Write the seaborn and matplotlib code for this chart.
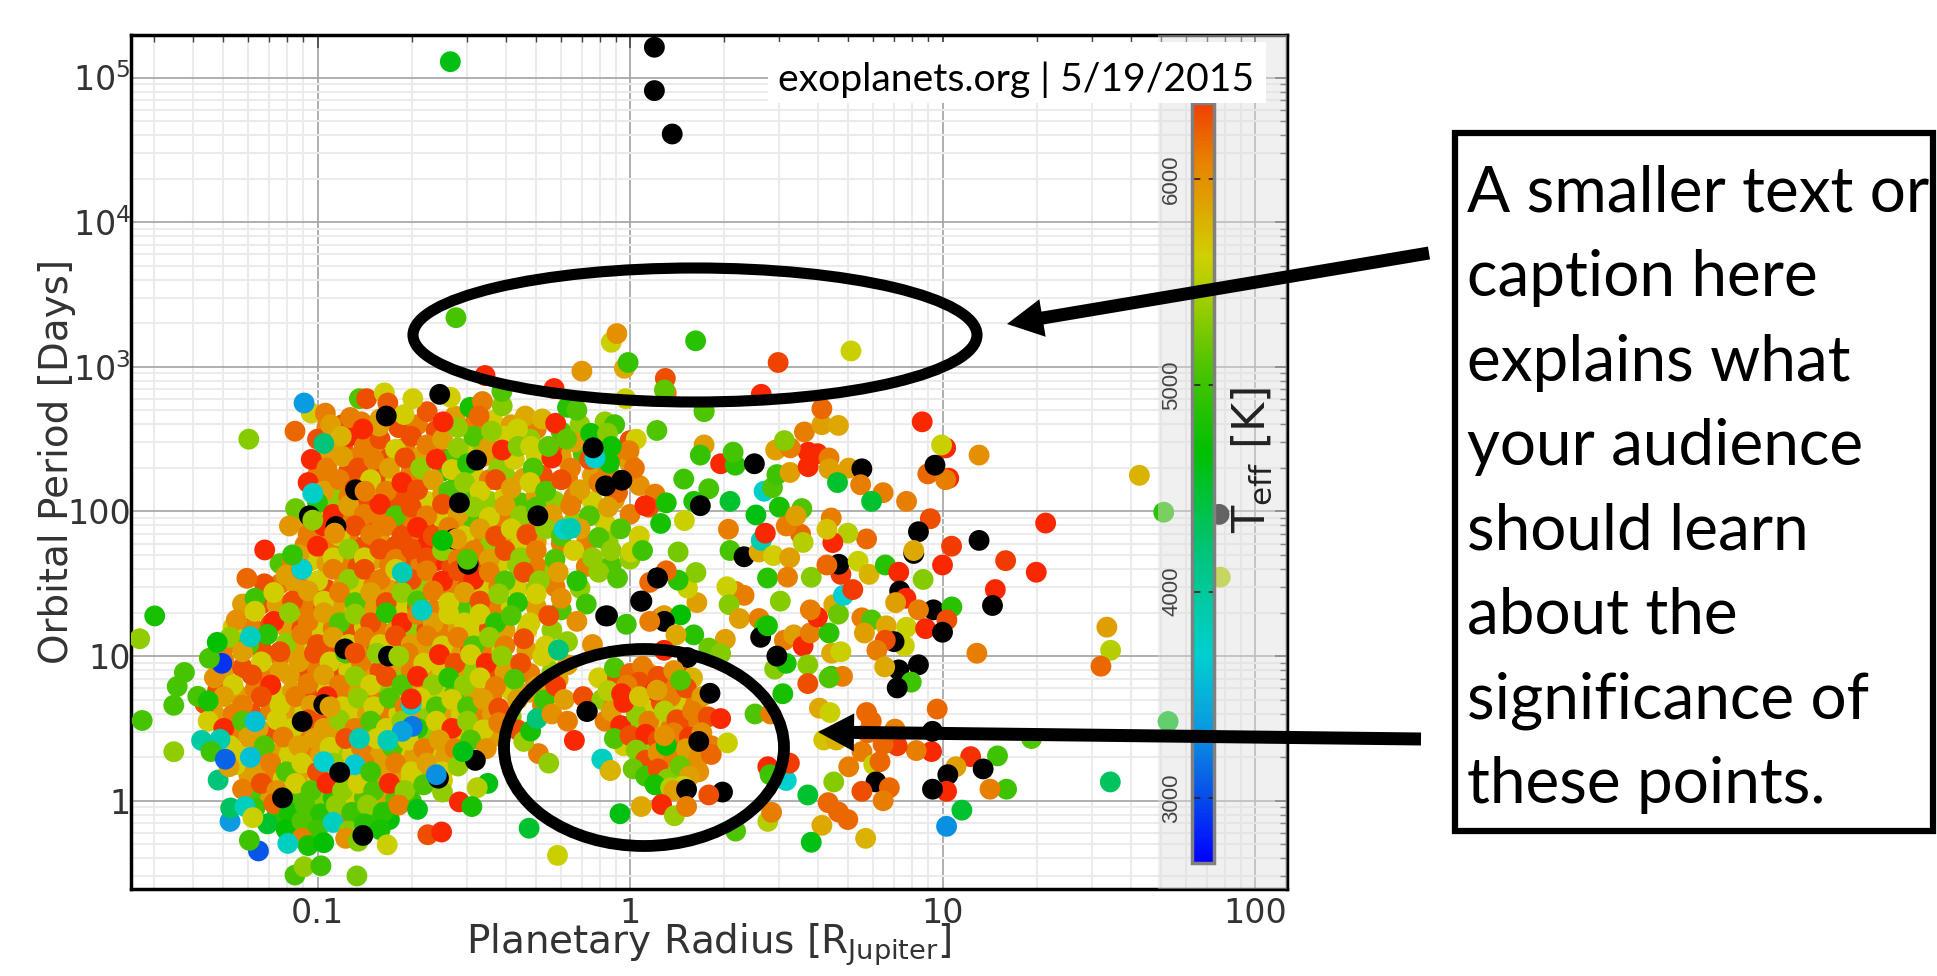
"""Exoplanet radius vs orbital period, with annotation ellipses and a caption box."""
import matplotlib
matplotlib.use("Agg")
import matplotlib.pyplot as plt
import numpy as np
import pandas as pd
import seaborn as sns
from matplotlib.cm import ScalarMappable
from matplotlib.colors import LinearSegmentedColormap, Normalize
from matplotlib.patches import Ellipse, FancyArrow, Rectangle

# rows are (log10 radius [Rj], log10 period [days], Teff [K]); None = no Teff, drawn black
under_top = [(-.97,2.58,6100),(-.92,2.6,6300),(-.86,2.62,6100),(-.8,2.64,5900),(-.74,2.58,6300),(-.68,2.6,6100),(-.62,2.56,6300),(-.56,2.66,5900),(-.5,2.6,6100),(-.44,2.63,5650),(-.38,2.6,5900),(-.3,2.57,6100),(-.22,2.55,5100),(-.16,2.6,5350),(-.08,2.62,5350),
(-.97,2.42,5900),(-.92,2.45,6300),(-.87,2.38,6100),(-.82,2.43,5900),(-.77,2.37,6300),(-.72,2.44,6100),(-.67,2.38,5900),(-.62,2.42,6300),(-.57,2.37,5100),(-.52,2.42,5650),(-.47,2.44,5350),(-.42,2.38,6100),(-.37,2.42,5350),(-.3,2.38,5650),(-.22,2.38,5900),(-.15,2.4,5100),(-.05,2.38,5900),
(-1.0,2.25,6100),(-.95,2.22,6100),(-.9,2.28,6300),(-.85,2.23,5900),(-.8,2.27,6300),(-.75,2.22,5650),(-.7,2.28,6100),(-.65,2.22,5900),(-.6,2.28,4900),(-.55,2.23,5100),(-.5,2.26,5650),(-.45,2.22,6100),(-.4,2.25,5350),(-.34,2.23,5900),(-.28,2.25,6300),(-.2,2.23,6100),(-.12,2.25,5900),(-.05,2.22,6300)]
under_upper = [(-1.0,2.1,6000),(-.95,2.1,5350),(-.9,2.1,6100),(-.85,2.08,6300),(-.8,2.12,5900),(-.75,2.07,6300),(-.7,2.12,6300),(-.65,2.07,5650),(-.6,2.12,5900),(-.55,2.08,5350),(-.5,2.1,5100),(-.45,2.07,5350),(-.4,2.11,5650),(-.35,2.06,5100),(-.3,2.11,5900),(-.24,2.07,5350),(-.18,2.1,6100),(-.12,2.07,5650),(-.05,2.08,5900),
(-1.06,1.94,5900),(-1.0,1.95,5650),(-.95,1.92,6300),(-.9,1.95,6100),(-.85,1.91,6300),(-.8,1.96,6100),(-.75,1.91,6300),(-.7,1.95,6100),(-.65,1.91,6500),(-.6,1.95,5650),(-.55,1.91,5900),(-.5,1.94,5100),(-.45,1.9,5350),(-.4,1.93,6100),(-.35,1.92,5650),(-.3,1.92,6100),(-.24,1.92,5900),(-.18,1.93,5350),(-.08,1.92,5650),
(-1.04,1.77,6100),(-1.0,1.8,5900),(-.95,1.77,6100),(-.9,1.81,6100),(-.85,1.76,6300),(-.8,1.8,5900),(-.75,1.76,6300),(-.7,1.8,6100),(-.65,1.77,6500),(-.6,1.8,6300),(-.55,1.76,6100),(-.5,1.78,6100),(-.45,1.76,5350),(-.4,1.79,5900),(-.35,1.77,5650),(-.3,1.79,5900),(-.22,1.78,6100),(-.14,1.78,6100),(-.07,1.79,5350)]
under_mid = [(-1.12,1.64,5100),(-1.08,1.65,6100),(-1.02,1.66,5650),(-.97,1.64,5900),(-.92,1.66,6100),(-.87,1.62,6300),(-.82,1.67,5900),(-.77,1.63,6100),(-.72,1.66,6300),(-.67,1.63,6100),(-.62,1.66,6500),(-.57,1.62,6300),(-.52,1.61,5900),(-.47,1.62,6300),(-.42,1.63,5650),(-.36,1.63,5350),(-.3,1.62,6100),(-.24,1.6,5350),(-.14,1.62,6100),(-.06,1.63,5100),
(-1.17,1.44,5650),(-1.12,1.5,6100),(-1.07,1.5,5900),(-1.02,1.47,6100),(-.97,1.46,6300),(-.92,1.48,5900),(-.87,1.47,5650),(-.82,1.49,6100),(-.77,1.46,5900),(-.72,1.49,6100),(-.67,1.46,5350),(-.62,1.48,5900),(-.57,1.46,6100),(-.52,1.48,6300),(-.47,1.46,5650),(-.42,1.48,6100),(-.36,1.47,5650),(-.3,1.47,5350),(-.24,1.48,6100),(-.16,1.47,5350),
(-1.24,1.36,5900),(-1.18,1.36,6300),(-1.13,1.36,5900),(-1.08,1.32,5650),(-1.03,1.34,6100),(-.98,1.33,6300),(-.93,1.34,5900),(-.88,1.32,5650),(-.83,1.33,5900),(-.78,1.36,6100),(-.73,1.32,5650),(-.68,1.34,6300),(-.63,1.32,6100),(-.58,1.34,5900),(-.53,1.32,5100),(-.48,1.34,5350),(-.43,1.32,6100),(-.38,1.34,5650),(-.3,1.34,5900),(-.22,1.32,5100)]
under_low = [(-1.27,1.2,5650),(-1.21,1.2,6100),(-1.15,1.22,6300),(-1.1,1.2,5900),(-1.05,1.19,6300),(-1.0,1.2,5650),(-.95,1.19,6100),(-.9,1.18,6300),(-.85,1.2,5650),(-.8,1.17,6100),(-.75,1.18,5900),(-.7,1.2,5350),(-.65,1.18,6300),(-.6,1.18,6100),(-.55,1.19,5900),(-.5,1.17,5650),(-.45,1.19,6300),(-.4,1.18,5900),(-.33,1.18,5650),(-.25,1.18,5350),
(-1.3,1.06,6100),(-1.24,1.1,5650),(-1.18,1.05,6300),(-1.12,1.0,6100),(-1.06,1.05,5900),(-1.01,1.05,5650),(-.96,1.03,6300),(-.91,1.05,6100),(-.86,1.04,5900),(-.81,1.05,6300),(-.76,1.05,5650),(-.71,1.05,6300),(-.66,1.04,5900),(-.61,1.04,5350),(-.56,1.03,5900),(-.51,1.04,6300),(-.46,1.03,6100),(-.41,1.04,5650),(-.33,1.04,5900),(-.25,1.03,5650),
(-1.3,.9,5900),(-1.24,.92,6300),(-1.18,.9,6100),(-1.12,.9,5900),(-1.06,.9,6300),(-1.0,.91,6100),(-.95,.9,6300),(-.9,.9,5650),(-.85,.9,5900),(-.8,.9,6300),(-.75,.91,5350),(-.7,.9,6100),(-.65,.9,5900),(-.6,.9,5650),(-.55,.9,5900),(-.5,.9,5350),(-.45,.9,6300),(-.4,.89,5900),(-.32,.88,6100),(-.25,.89,5350),
(-1.32,.76,6300),(-1.26,.74,5900),(-1.2,.77,6100),(-1.14,.75,5650),(-1.08,.76,5900),(-1.02,.75,6300),(-.97,.77,5650),(-.92,.76,6100),(-.87,.76,5900),(-.82,.74,6100),(-.77,.77,5350),(-.72,.75,5650),(-.67,.76,5900),(-.62,.74,5650),(-.56,.75,5100),(-.5,.75,5900),(-.44,.74,6100),(-.38,.76,5650),(-.32,.75,5900),(-.24,.75,6300)]
under_base = [(-1.33,.6,5900),(-1.27,.6,6100),(-1.21,.6,6300),(-1.15,.62,6100),(-1.09,.6,5900),(-1.04,.62,5650),(-.99,.6,6300),(-.94,.6,5900),(-.89,.6,5650),(-.84,.6,5900),(-.79,.6,6100),(-.74,.6,5650),(-.69,.6,5900),(-.64,.6,5350),(-.59,.6,5900),(-.54,.6,5650),(-.49,.59,6100),(-.44,.6,5900),(-.38,.58,5350),
(-1.28,.45,6100),(-1.22,.5,5900),(-1.16,.47,6300),(-1.1,.5,5900),(-1.05,.45,6100),(-1.0,.46,5650),(-.95,.45,5900),(-.9,.48,5650),(-.85,.46,5900),(-.8,.47,6100),(-.75,.46,5650),(-.7,.47,5900),(-.65,.45,5350),(-.6,.47,5900),(-.55,.46,5650),(-.5,.46,5900),(-.44,.44,5900),
(-1.25,.32,5650),(-1.19,.32,6100),(-1.14,.32,5900),(-1.09,.32,5650),(-1.04,.32,6100),(-.99,.32,5900),(-.94,.31,5350),(-.89,.32,5650),(-.84,.31,5900),(-.79,.32,5900),(-.74,.31,5650),(-.69,.31,5900),(-.64,.32,5650),(-.59,.31,5900),(-.53,.3,5900),
(-1.22,.18,5900),(-1.16,.16,6100),(-1.11,.15,5650),(-1.05,.16,5900),(-1.0,.14,5650),(-.95,.17,5350),(-.9,.15,5100),(-.85,.16,5900),(-.8,.14,5650),(-.75,.17,5900),(-.7,.15,5650),(-.65,.17,5350),(-.6,.14,5650),
(-1.2,.03,5100),(-1.15,.02,5900),(-1.1,.0,6100),(-1.05,.02,5100),(-1.0,.0,5350),(-.95,.02,4900),(-.9,.0,5650),(-.85,.02,5100),(-.8,.0,5900),(-.75,.01,5100),(-.7,.0,5000),
(-1.13,-.1,4900),(-1.07,-.13,5100),(-1.02,-.1,4800),(-.97,-.13,5100),(-.92,-.12,6100),(-.87,-.1,4800),(-.82,-.12,5000),(-.77,-.13,4700)]

band_a = [(-1.0,2.5,6300),(-.95,2.44,5900),(-.9,2.52,6500),(-.85,2.45,6100),(-.8,2.5,6300),(-.75,2.43,5650),(-.7,2.52,6300),(-.65,2.46,6100),(-.6,2.5,5900),(-.55,2.44,5350),(-.5,2.52,5100),(-.45,2.45,5900),(-.4,2.52,5650),(-.32,2.5,5350),(-.25,2.44,6300),(-.18,2.48,5900),(-.1,2.45,5100),(-.02,2.4,6100)]
band_b = [(-1.02,2.36,6500),(-.97,2.3,6100),(-.92,2.38,5900),(-.87,2.3,6300),(-.82,2.36,6100),(-.77,2.3,5900),(-.72,2.37,6300),(-.67,2.3,5350),(-.62,2.36,6500),(-.57,2.29,5650),(-.52,2.33,4900),(-.47,2.38,5900),(-.42,2.3,5350),(-.37,2.36,5650),(-.31,2.3,5100),(-.25,2.37,6500),(-.19,2.3,6100),(-.13,2.36,6300),(-.07,2.3,6100),(0.0,2.33,5900)]
band_c = [(-1.03,2.2,6500),(-.98,2.14,5900),(-.93,2.22,6100),(-.88,2.16,6300),(-.83,2.22,5650),(-.78,2.14,6100),(-.73,2.2,6500),(-.68,2.15,6300),(-.63,2.22,5900),(-.58,2.14,5100),(-.53,2.2,5350),(-.48,2.14,5650),(-.43,2.22,6300),(-.38,2.16,5900),(-.32,2.2,5650),(-.27,2.14,5100),(-.22,2.22,6300),(-.16,2.15,5900),(-.1,2.2,6100),(-.04,2.13,6200),(.03,2.18,6000),(.08,2.12,6100)]
band_d = [(-1.07,2.02,5200),(-1.0,2.06,4900),(-.95,1.98,6500),(-.9,2.04,5900),(-.85,1.98,6100),(-.8,2.05,6500),(-.75,1.97,5100),(-.7,2.03,6300),(-.65,1.97,6100),(-.6,2.05,6300),(-.55,1.98,5900),(-.5,2.03,5350),(-.45,1.96,5650),(-.4,2.04,5900),(-.35,1.97,5350),(-.3,2.03,5100),(-.25,1.98,5900),(-.19,2.04,6100),(-.13,1.97,5100),(-.07,2.03,5900),(0.0,1.98,6100),(.06,2.03,6300)]
band_e = [(-1.09,1.9,5950),(-1.03,1.84,6100),(-.98,1.9,6500),(-.93,1.83,5650),(-.88,1.9,6300),(-.83,1.84,6100),(-.78,1.9,6100),(-.73,1.83,6300),(-.68,1.89,6500),(-.63,1.83,6300),(-.58,1.89,6100),(-.53,1.83,5650),(-.48,1.88,5900),(-.43,1.83,6300),(-.38,1.88,5650),(-.33,1.84,6300),(-.27,1.88,5350),(-.22,1.83,5100),(-.16,1.88,5900),(-.1,1.82,5100),(-.03,1.88,5100),(.03,1.83,5650)]
band_f = [(-1.06,1.7,5900),(-1.0,1.76,6500),(-.95,1.68,5650),(-.9,1.74,5350),(-.85,1.68,5650),(-.8,1.74,6300),(-.75,1.67,6100),(-.7,1.74,6300),(-.65,1.68,6300),(-.6,1.73,5350),(-.55,1.67,6100),(-.5,1.73,6100),(-.45,1.67,5900),(-.4,1.73,6300),(-.35,1.68,5350),(-.3,1.73,6100),(-.24,1.67,5100),(-.18,1.73,5650),(-.12,1.68,5350),(-.06,1.73,5350),(0.0,1.67,5350)]
band_g = [(-1.17,1.5,6300),(-1.1,1.56,5900),(-1.05,1.6,6300),(-1.0,1.52,5650),(-.95,1.6,6100),(-.9,1.53,5350),(-.85,1.6,6300),(-.8,1.53,6100),(-.75,1.6,5650),(-.7,1.53,6300),(-.65,1.59,6100),(-.6,1.52,6500),(-.55,1.59,6300),(-.5,1.53,6500),(-.45,1.58,6100),(-.4,1.52,5100),(-.34,1.58,6300),(-.29,1.52,5350),(-.23,1.58,5900),(-.17,1.52,4900),(-.1,1.58,5350),(-.04,1.54,5100)]
band_h = [(-1.2,1.4,5000),(-1.14,1.44,5650),(-1.08,1.38,6300),(-1.03,1.45,5900),(-.98,1.38,5650),(-.93,1.44,6100),(-.88,1.37,5100),(-.83,1.44,5900),(-.78,1.37,6300),(-.73,1.44,5350),(-.68,1.38,5100),(-.63,1.45,6100),(-.58,1.37,5650),(-.53,1.44,5900),(-.48,1.38,6300),(-.42,1.43,5350),(-.36,1.37,4900),(-.3,1.43,5650),(-.22,1.4,6000),(-.14,1.36,5000)]
band_i = [(-1.26,1.25,6000),(-1.2,1.31,5650),(-1.14,1.24,6500),(-1.09,1.3,5350),(-1.03,1.24,6100),(-.98,1.3,5900),(-.93,1.23,5100),(-.88,1.29,5350),(-.83,1.23,6300),(-.78,1.3,4900),(-.73,1.23,6500),(-.68,1.29,6100),(-.63,1.23,5900),(-.58,1.29,5650),(-.53,1.23,5650),(-.48,1.29,5650),(-.43,1.23,4900),(-.38,1.28,5100),(-.32,1.23,5650),(-.26,1.28,6300),(-.17,1.24,6000)]
band_j = [(-1.28,1.13,5350),(-1.22,1.08,5100),(-1.16,1.15,4900),(-1.1,1.09,5350),(-1.05,1.15,6100),(-1.0,1.08,6300),(-.95,1.13,5900),(-.9,1.08,5650),(-.85,1.13,6100),(-.8,1.08,5650),(-.75,1.14,6300),(-.7,1.08,5900),(-.65,1.14,6100),(-.6,1.07,5650),(-.55,1.13,6100),(-.5,1.07,5100),(-.45,1.13,5350),(-.4,1.07,6100),(-.34,1.12,6300),(-.27,1.07,5650),(-.2,1.1,5350),(-.12,1.08,6000)]
band_k = [(-1.3,.97,6100),(-1.24,1.03,5900),(-1.18,.96,5650),(-1.12,1.03,6300),(-1.06,.96,5900),(-1.01,1.02,6300),(-.96,.96,5650),(-.91,1.02,5100),(-.86,.96,6100),(-.81,1.02,5350),(-.76,.96,5900),(-.71,1.02,6100),(-.66,.95,5650),(-.61,1.01,6500),(-.56,.95,6300),(-.51,1.01,5650),(-.46,.95,6500),(-.41,1.0,5350),(-.35,.95,6300),(-.28,1.0,5650),(-.2,.94,5900)]
band_l = [(-1.33,.85,6000),(-1.27,.8,5650),(-1.21,.87,6300),(-1.15,.8,6500),(-1.09,.87,5900),(-1.03,.81,6100),(-.98,.87,5900),(-.93,.8,6100),(-.88,.86,5350),(-.83,.8,5650),(-.78,.86,6300),(-.73,.8,5100),(-.68,.86,6500),(-.63,.8,5350),(-.58,.85,4900),(-.53,.8,5350),(-.48,.85,5650),(-.43,.79,6100),(-.37,.84,5100),(-.3,.79,5900),(-.23,.84,5900)]
band_m = [(-1.36,.67,6300),(-1.3,.72,5900),(-1.24,.66,6100),(-1.18,.72,6300),(-1.12,.66,5650),(-1.07,.72,6100),(-1.02,.66,5900),(-.97,.72,6500),(-.92,.65,5650),(-.87,.71,5350),(-.82,.65,5650),(-.77,.71,5100),(-.72,.65,6100),(-.67,.71,5650),(-.62,.65,5100),(-.57,.7,5650),(-.52,.65,5100),(-.47,.7,5900),(-.42,.64,6300),(-.36,.7,5900),(-.28,.66,6100)]
band_n = [(-1.35,.55,5650),(-1.3,.5,6500),(-1.24,.55,5100),(-1.19,.5,5900),(-1.13,.56,5650),(-1.08,.5,5650),(-1.03,.56,6300),(-.98,.5,5900),(-.93,.56,5350),(-.88,.5,6100),(-.83,.55,5100),(-.78,.5,5650),(-.73,.55,5350),(-.68,.5,4900),(-.62,.55,5650),(-.57,.5,6500),(-.52,.55,5350),(-.47,.49,5650),(-.42,.54,6100),(-.36,.49,6300)]
band_o = [(-1.28,.38,5650),(-1.22,.44,5900),(-1.17,.38,5100),(-1.11,.44,6100),(-1.06,.38,5900),(-1.01,.43,5900),(-.96,.37,5650),(-.91,.43,6300),(-.86,.37,6100),(-.81,.43,5650),(-.76,.37,5100),(-.71,.42,5650),(-.66,.36,6100),(-.61,.42,5900),(-.56,.36,6100),(-.51,.42,5100),(-.46,.36,6000)]
band_p = [(-1.26,.25,5650),(-1.2,.2,5900),(-1.15,.26,6100),(-1.1,.2,5100),(-1.05,.26,5650),(-1.0,.2,6300),(-.95,.26,5350),(-.9,.2,5900),(-.85,.26,6100),(-.8,.2,5900),(-.75,.26,6100),(-.7,.2,5650),(-.65,.26,5900),(-.6,.2,5650),(-.55,.24,5350)]
band_q = [(-1.24,.08,6100),(-1.18,.12,6300),(-1.13,.07,6000),(-1.07,.12,5650),(-1.02,.07,5100),(-.97,.12,6500),(-.92,.07,5350),(-.87,.12,5650),(-.82,.07,5100),(-.77,.12,6500),(-.72,.07,5350),(-.66,.11,5100),(-.6,.06,5350)]
band_r = [(-1.2,-.05,5000),(-1.14,-.02,6200),(-1.09,-.08,4800),(-1.04,-.03,5100),(-.99,-.09,4900),(-.94,-.03,5350),(-.89,-.08,5000),(-.84,-.03,5350),(-.79,-.08,4900),(-.74,-.03,6100),(-.68,-.06,4600)]
band_s = [(-1.16,-.16,4500),(-1.1,-.2,4700),(-1.05,-.14,5100),(-1.0,-.2,5000),(-.95,-.15,3800),(-.9,-.21,5300),(-.85,-.16,4900),(-.8,-.2,4800),(-1.05,-.26,6100),(-1.03,-.31,4800),(-.98,-.29,4700),(-.91,-.26,6000),(-.87,-.28,5300)]

cloud_marks = [(-1.02,2.68,5650),(-.975,2.68,6100),(-.895,2.65,6100),(-1.072,2.555,6200),(-.866,2.78,5100),(-.843,2.78,6300),(-.786,2.82,5650),(-.775,2.75,6250),(-.723,2.67,5650),(-.649,2.69,6250),(-.695,2.78,5650),(-.575,2.79,5650),(-.512,2.72,4800),(-.472,2.76,6100),(-.409,2.73,5300),(-.483,2.66,6200),(-.552,2.58,5350),(-.598,2.62,6500),(-.803,2.59,5900),(-.958,2.6,5900),(-.924,2.52,5800),(-.855,2.57,6500),(-.335,2.66,5850),(-.281,2.64,5800),(-.238,2.61,6500),(-.36,2.57,5600),(-.443,2.555,5350),(-.409,2.425,6500),(-.358,2.45,5300),(-.318,2.45,5600),(-.261,2.45,5150),(-.203,2.5,5150),(-.126,2.54,4750),(-.049,2.6,5000),(-.072,2.54,5300),(0,2.49,6300),(.02,2.5,5650),(-.003,2.42,6100),(-.06,2.45,4750),(-.066,2.335,4750),(-.112,2.37,3700),(.014,2.3,6150),(-1.043,2.75,3350)]
cloud_cool = [(-.697,.514,3200),(-.729,.48,3400),(-.729,1.578,3850),(-.666,1.317,3800),(-.211,1.877,3700),(-.19,1.883,3850),(-.98,2.47,4200),(-1.015,2.125,3750),(-1.2,.548,3600),(-1.215,1.134,3800),(-.881,.248,3650),(-.866,.43,3850),(-.7,.665,3700),(-.7,.704,6500),(-.775,.417,3850),(-.229,1.043,4200),(-1.05,1.6,3700),(-1.306,.95,2900),(-.98,.27,3700)]
cloud_black = [(-1.112,.02,None),(-.912,1.05,None),(-.773,1.0,None),(-.878,2.15,None),(-.546,2.06,None),(-.491,2.355,None),(-.609,2.81,None),(-.78,2.66,None),(-1.026,1.97,None),(-.941,1.896,None),(-.518,1.635,None),(-.563,1.81,None),(-.295,1.97,None),(-.118,2.44,None),(-.026,2.216,None),(-.078,2.177,None),(-.078,1.278,None),(.034,1.38,None),(.088,1.54,None),(-.98,.665,None),(-1.049,.548,None),(-.929,.196,None)]
cloud_over = [(-.555,1.81,5900),(-.96,.65,5900),(-1.015,1.94,5350),(-.848,2.14,6100),(-.6,1.8,4700),(-.52,1.67,5100),(-.945,1.85,6000),(-.88,1.02,6300),(-.74,1.0,5400),(-.83,.2,5000)]

left_edge = [(-1.521,1.278,4800),(-1.569,1.12,5350),(-1.22,2.5,5300),(-1.426,.887,5050),(-1.449,.79,5050),(-1.46,.66,5050),(-1.561,.555,5050),(-1.46,.339,5350),(-1.383,.722,5050),(-1.346,.985,5050),(-1.321,1.095,4700),(-1.226,1.538,6200),(-1.169,1.734,6500),(-1.08,1.7,4950),(-1.072,-.514,5050),(-1.043,-.456,5350),(-.989,-.45,5000),(-.874,-.52,5250),(-.777,-.305,5600),(-.855,-.24,None),(-1.189,-.347,3050),(-1.218,-.274,5000),(-1.095,-.295,3800),(-1.28,-.143,3350),(-1.278,-.05,4300),(-1.232,-.04,3800),(-1.207,-.117,5600),(-1.318,.143,4200),(-1.283,.235,5900),(-1.215,.3,3600),(-1.371,.417,3950),(-1.312,.425,3900),(-1.341,.34,5000),(-1.295,.287,3100),(-1.35,.69,4800)]
lower_mid = [(-.323,-.19,4500),(-.232,-.378,5600),(-.455,.12,4600),(-.489,.09,5500),(-.546,-.008,6500),(-.506,-.04,4800),(-.647,-.235,6300),(-.603,-.216,6500),(-.495,.279,None),(-.535,.34,4600),(-.613,.156,None),(-.62,.18,3300),(-.293,.326,6100),(-.26,.26,5350),(-.34,.41,5400),(-.318,.482,4800),(-.297,.568,4200),(-.274,.696,5000),(-.238,.795,6400),(-.25,.6,6000),(-.2,.55,6100),(-.178,.417,6500),(-.138,.618,None),(-.21,.7,5900),(-.15,.72,6300),(-.089,.287,3700),(-.064,.21,5900)]

ellipse_under = [(-.1,.85,5650),(-.04,.85,6300),(.06,.88,5900),(.12,.82,6100),(.17,.85,6300),(-.09,.7,5350),(-.05,.66,6100),(.05,.66,5650),(.1,.68,6300),(.16,.66,5650),(.21,.67,6100),(-.08,.55,6100),(.0,.52,5350),(.09,.52,5650),(.13,.5,6100),(.18,.52,6300),(.22,.54,6100),(-.02,.38,5650),(.03,.4,6100),(.07,.36,5350),(.12,.38,6100),(.16,.4,6300),(.2,.38,5900),(.04,.24,5100),(.08,.27,5650),(.11,.23,6100),(.15,.2,5650),(.2,.24,6100),(.07,.15,5100),(.1,.1,5100),(.16,.13,5900),(.22,.2,6000)]
ellipse_cluster = [(-.05,.92,5100),(0.0,.88,6200),(.04,.93,6100),(.09,.86,6300),(.14,.9,6000),(.2,.85,5800),(-.07,.76,5500),(-.02,.7,5650),(.03,.82,6300),(.08,.76,6500),(.13,.72,6100),(.18,.78,6300),(.23,.72,5900),(-.06,.62,5900),(-.03,.52,6500),(.02,.6,5350),(.06,.55,6100),(.11,.62,5500),(.15,.56,6300),(.2,.62,6100),(.25,.58,6300),(-.05,.43,5100),(.0,.45,6300),(.05,.46,6500),(.09,.42,6300),(.14,.47,6100),(.19,.44,6400),(.23,.47,6000),(.26,.38,6100),(.02,.35,5300),(.05,.28,6300),(.09,.33,6000),(.14,.3,6100),(.18,.36,5900),(.22,.3,6000),(.26,.32,6200),(.01,.22,5200),(.05,.17,5000),(.09,.22,6300),(.12,.15,5300),(.16,.24,5200),(.19,.17,5900),(.08,.11,4800),(.13,.09,5500),(.17,.1,5600),(.14,.07,5900),(-.01,.8,6100),(-.027,.74,6500),(-.02,.68,6500),(.03,.72,5700),(.116,.383,4700),(.162,.834,5100),(.086,.764,5900),(.181,.078,None),(.296,.06,None),(.252,.04,6300),(.256,.743,None),(-.137,.618,None),(.29,.568,6500),(.312,.4,5600),(.101,-.026,6500),(.036,-.04,5850),(-.032,-.09,4600),(.142,-.104,5400),(.181,-.04,6100),(-.09,.287,3800),(-.062,.21,5800),(.22,.41,None),(.11,.45,6000)]
right_cloud = [(.116,2.82,6100),(.086,2.56,5100),(.237,2.69,5100),(.237,2.46,5900),(.225,2.39,4950),(.29,2.33,6500),(.337,2.32,4900),(.33,2.41,5050),(.398,2.33,None),(.172,2.224,5000),(.252,2.157,5050),(.116,2.06,4800),(.048,2.04,6500),(.204,2.07,4850),(.225,2.04,None),(.174,1.937,5600),(.098,1.917,4800),(.154,1.72,5250),(.003,1.72,5600),(.04,1.73,5000),(.32,2.07,4500),(.403,1.976,4600),(.478,2.03,4800),(.55,2.02,5100),(.315,1.877,6100),(.32,1.73,5050),(.429,2.14,3750),(.456,2.165,5100),(.47,2.255,5000),(.512,2.27,5900),(.57,2.31,6500),(.6,2.4,6500),(.57,2.41,6500),(.466,2.425,5900),(.513,2.44,6100),(.494,2.49,5300),(.558,2.55,6100),(.614,2.6,5900),(.667,2.595,5850),(.614,2.71,6200),(.637,2.37,6100),(.637,2.295,5900),(.7,2.3,5900),(.742,2.295,None),(.664,2.2,4500),(.738,2.185,6100),(.81,2.13,6100),(.773,2.07,4500),(.885,2.07,6100)]
right_mid = [(.365,1.687,None),(.413,1.72,5850),(.42,1.8,3850),(.433,1.85,6500),(.459,1.695,5650),(.511,1.68,5900),(.44,1.54,4900),(.504,1.546,6100),(.58,1.545,5300),(.481,1.38,5300),(.338,1.447,6100),(.365,1.42,6100),(.31,1.48,5600),(.317,1.356,5300),(.35,1.26,5900),(.413,1.26,6100),(.43,1.2,5000),(.214,1.37,5900),(.184,1.47,5600),(.211,1.578,5300),(.154,1.525,4900),(.116,1.59,6200),(.086,1.54,None),(.063,1.51,6200),(.038,1.38,None),(.1,1.265,6300),(-.072,1.278,None),(.109,1.28,5900),(.162,1.285,4700),(.11,1.24,None),(.063,1.24,6100),(-.012,1.22,5000),(.204,1.147,4900),(.305,1.116,5900),(.147,1.147,5850),(.252,1.056,5200),(.29,1.017,5300),(.184,.99,None),(.109,1.04,6500),(.418,1.13,None),(.44,1.21,4800),(.494,1.11,6100),(.524,1.147,5900),(.554,1.07,6500),(.577,1.16,6100),(.637,1.16,4900),(.6,1.27,6500),(.577,1.32,6100),(.652,1.356,5850),(.667,1.29,5200),(.742,1.265,6100),(.773,1.25,5100),(.75,1.16,5900),(.82,1.21,5850),(.683,1.42,3700),(.713,1.46,6400),(.675,1.565,6400),(.668,1.635,None),(.73,1.656,5600),(.765,1.565,5800),(.63,1.63,6200),(.757,1.81,6200),(.697,1.85,5500),(.649,1.785,6500),(.644,1.955,6100),(.63,1.877,5700),(.546,1.843,6200),(.5,1.9,6100),(.554,1.786,5500),(.531,1.97,5900),(.463,.91,5300),(.5,.95,4800),(.47,1.0,None),(.569,.94,5300),(.645,1.02,5850),(.675,1.03,5600),(.569,.81,6300),(.644,.86,4900),(.68,.86,6100),(.637,.85,5100),(.489,.74,4800),(.4,.6,5100),(.45,.6,6100),(.606,.64,5850),(.64,.61,5600)]
far_right = [(.935,2.62,6500),(1.01,2.44,6500),(.997,2.46,5600),(1.117,2.39,6000),(.953,2.26,6200),(1.02,2.23,6500),(1.01,2.22,6100),(.976,2.32,None),(.961,1.95,6300),(.923,1.86,None),(1.029,1.76,6400),(1.117,1.8,None),(1.33,1.92,6500),(1.202,1.66,6400),(1.3,1.58,6500),(1.169,1.46,6500),(1.16,1.35,None),(.908,1.71,None),(.908,1.73,5850),(1.0,1.63,6500),(.938,1.53,5300),(.817,1.63,4900),(.86,1.58,6500),(.863,1.45,None),(.883,1.4,6500),(.85,1.37,5900),(.971,1.32,None),(1.03,1.34,4900),(.923,1.32,6100),(.885,1.2,5600),(.878,1.07,5600),(1.014,1.25,6300),(.946,1.19,6500),(1.0,1.165,None),(.845,1.1,None),(.817,1.11,6300),(.79,1.04,6100),(1.11,1.02,6100),(1.526,1.2,5900),(1.538,1.04,5500),(1.507,.93,6200),(1.63,2.25,5800),(1.708,1.995,4900),(1.885,1.98,None),(1.889,1.546,5500),(1.722,.548,4600),(1.537,.13,4300)]
lower_right = [(1.285,.43,5100),(1.176,.31,5000),(1.09,.305,6450),(1.043,.235,5900),(1.13,.22,None),(1.017,.18,None),(1.205,.08,5000),(1.152,.08,6100),(1.013,.065,6500),(.968,.08,None),(1.062,-.065,4500),(1.013,-.177,3300),(.965,.34,6500),(.916,.347,6100),(.855,.38,6400),(.81,.39,6200),(.968,.48,None),(.983,.634,6200),(.923,.94,None),(.86,.905,None),(.9,.82,5000),(.855,.78,None),(.815,.925,5850),(.757,.61,6200),(.772,.55,6200),(.848,.495,6100),(.742,.34,6100),(.7,.235,6100),(.78,.25,5600),(.8,.27,6200),(.787,.13,None),(.83,.09,6200),(.742,.065,6300),(.81,0,6100),(.652,.13,5300),(.569,.04,4500),(.634,-.013,6200),(.667,-.078,6200),(.697,-.13,6200),(.614,-.17,5850),(.754,-.26,5800),(.58,-.287,4600),(.441,-.143,5500),(.453,-.08,6100),(.338,-.21,5100),(.441,.235,6500),(.448,.18,5000),(.5,.14,3700),(.51,.26,6400),(.62,.42,5700),(.66,.42,5800),(.76,.47,6200)]
top_sparse = [(-.575,5.11,4600),(.078,5.21,None),(.078,4.91,None),(.135,4.61,None),(-.557,3.34,5050),(-.06,3.17,5600),(-.042,3.23,6000),(-.154,2.97,5950),(-.018,2.99,5850),(-.006,3.03,4950),(-.464,2.94,6500),(-.243,2.85,6500),(.113,2.92,6300),(.11,2.84,5150),(-.014,2.78,5600),(.21,3.18,4900),(.474,3.03,6350),(.707,3.11,5600),(.42,2.81,6500),(.237,2.7,5100),(-.41,2.83,5100),(-.2,2.72,4900),(-.17,2.7,5100)]

x_ticks = [0.1, 1, 10, 100]
x_tick_labels = ["0.1", "1", "10", "100"]
y_ticks = [1, 10, 100, 1000, 10000, 100000]
y_tick_labels = ["1", "10", "100", r"10$^3$", r"10$^4$", r"10$^5$"]
teff_ticks = [3000, 4000, 5000, 6000]
caption_lines = ["A smaller text or", "caption here", "explains what", "your audience", "should learn", "about the", "significance of", "these points."]

# Teff stops and colours of the colour bar
teff_stops = [2684, 3050, 3350, 3690, 4200, 4680, 5100, 5350, 5630, 5900, 6100, 6369, 6600]
teff_colours = ["#0000ff", "#0858e8", "#0a9ce0", "#00d0d0", "#00c478", "#00c000", "#50c400", "#90cc00", "#d0d000", "#e0a000", "#e88000", "#f04000", "#ff1800"]

norm = Normalize(teff_stops[0], teff_stops[-1])
cmap = LinearSegmentedColormap.from_list("teff", [(norm(t), c) for t, c in zip(teff_stops, teff_colours)])

groups = [under_top, under_upper, under_mid, under_low, under_base, band_a, band_b, band_c, band_d, band_e, band_f, band_g, band_h, band_i, band_j, band_k, band_l, band_m, band_n, band_o, band_p, band_q, band_r, band_s,
          right_cloud, right_mid, cloud_marks, cloud_cool, cloud_black, cloud_over, left_edge, lower_mid, ellipse_under, ellipse_cluster, far_right, lower_right, top_sparse]
planets = pd.DataFrame([row for group in groups for row in group], columns=["log_radius", "log_period", "teff"])
planets["radius"] = 10 ** planets["log_radius"]
planets["period"] = 10 ** planets["log_period"]
dot_colours = [(0, 0, 0, 1) if np.isnan(t) else cmap(norm(t)) for t in planets["teff"].astype(float)]

W, H = 1937, 976
sns.set_style("white")
plt.rcParams["font.family"] = "DejaVu Sans"
plt.rcParams["mathtext.default"] = "regular"
fig = plt.figure(figsize=(W / 100, H / 100), dpi=100)
ax = fig.add_axes([131 / W, 1 - 888.7 / H, (1287 - 131) / W, (888.7 - 35) / H])

sns.scatterplot(data=planets, x="radius", y="period", c=dot_colours, s=225, linewidth=0, zorder=3, ax=ax)
ax.set_xscale("log")
ax.set_yscale("log")
ax.set_xlim(0.0253, 126.6)
ax.set_ylim(0.2465, 197000)
ax.set_xticks(x_ticks, x_tick_labels)
ax.set_yticks(y_ticks, y_tick_labels)
ax.grid(True, which="major", color="#a2a2a2", lw=1.2, zorder=1)
ax.grid(True, which="minor", color="#ebebeb", lw=1.5, zorder=0)
ax.set_axisbelow(True)
ax.tick_params(axis="both", which="major", direction="in", length=9, width=1.2, color="#444444", labelsize=24, labelcolor="#333333", top=True, right=True)
ax.tick_params(axis="both", which="minor", direction="in", length=5, width=1, color="#444444", top=True, right=True)
ax.tick_params(axis="y", which="major", pad=0)
ax.tick_params(axis="x", which="major", pad=6)
ax.minorticks_on()
for spine in ax.spines.values():
    spine.set_linewidth(2.5)
    spine.set_color("black")
ax.set_xlabel("Planetary Radius [R$_{Jupiter}$]", fontsize=28, color="#333333", labelpad=-6)
ax.set_ylabel("Orbital Period [Days]", fontsize=28, color="#333333", labelpad=-6)

# grey strip holding the colour bar, it washes out the points below it
ax.axvspan(49, 126.6, facecolor="#dedede", alpha=0.45, lw=0, zorder=5)

cax = fig.add_axes([1192 / W, 1 - 863 / H, 22 / W, (863 - 103) / H], zorder=6)
bar = fig.colorbar(ScalarMappable(norm=norm, cmap=cmap), cax=cax)
cax.set_ylim(2684, 6369)
bar.set_ticks(teff_ticks)
bar.outline.set_edgecolor("#808080")
bar.outline.set_linewidth(2.5)
cax.yaxis.set_ticks_position("left")
cax.tick_params(axis="y", direction="in", length=0, pad=7, labelsize=16, labelcolor="#444444", labelrotation=90)
for label in cax.get_yticklabels():
    label.set_family("Liberation Sans")
    label.set_va("center")
for t in teff_ticks:
    cax.axhline(t, color="#222222", lw=1.2, dashes=(5, 5))

# annotations added on top of the plot, in pixels
over = fig.add_axes([0, 0, 1, 1], zorder=10, facecolor="none")
over.set_xlim(0, W)
over.set_ylim(H, 0)
over.axis("off")
over.add_patch(Rectangle((768, 42), 498, 61, facecolor="white", edgecolor="none"))
over.text(1016, 80, "exoplanets.org | 5/19/2015", family="Lato", fontsize=28.2, color="black", ha="center", va="center")
over.text(1252, 460, r"T$_{eff}$ [K]", rotation=90, fontsize=32, color="#222222", ha="center", va="center")
over.add_patch(Ellipse((695, 335), 564, 134, fill=False, edgecolor="black", lw=8))
over.add_patch(Ellipse((644, 747.5), 280, 197, fill=False, edgecolor="black", lw=8.5))
over.add_patch(FancyArrow(1429, 253, -422, 71, width=13, head_width=38, head_length=36, length_includes_head=True, color="black", lw=0))
over.add_patch(FancyArrow(1421, 739, -603, -7, width=13, head_width=38, head_length=36, length_includes_head=True, color="black", lw=0))
over.add_patch(Rectangle((1455, 133), 478, 698, facecolor="white", edgecolor="black", lw=4.5))
for i, line in enumerate(caption_lines):
    over.text(1467, 212 + i * 84.4, line, family="Lato", fontsize=46, color="black", ha="left", va="baseline")

fig.savefig("out.png", dpi=100)
